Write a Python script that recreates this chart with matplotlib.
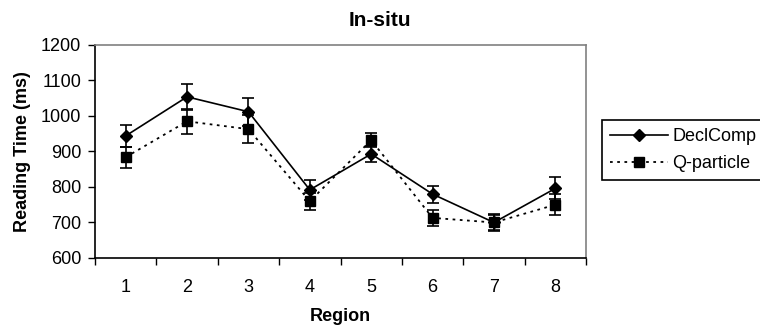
import matplotlib
matplotlib.use("Agg")
import matplotlib.pyplot as plt
from matplotlib.lines import Line2D
import numpy as np

plt.rcParams["font.family"] = ["Liberation Sans", "DejaVu Sans"]

regions = [1, 2, 3, 4, 5, 6, 7, 8]
declcomp = [944, 1054, 1012, 792, 893, 780, 700, 796]
declcomp_err = [31, 37, 40, 28, 22, 24, 23, 31]
qparticle = [884, 985, 963, 760, 932, 713, 700, 750]
qparticle_err = [30, 35, 40, 24, 20, 22, 20, 30]

fig = plt.figure(figsize=(7.6, 3.32), dpi=100)
ax = fig.add_axes([95/760, 1-258/332, (586-95)/760, (258-45)/332])

dotted = (0, (1.5, 2.5))
x = np.array(regions)
ax.errorbar(x, declcomp, yerr=declcomp_err, color="black", linestyle="-",
            linewidth=1.2, marker="D", markersize=6, capsize=4.5,
            elinewidth=1.2, capthick=1.2)
ax.errorbar(x, qparticle, yerr=qparticle_err, color="black",
            linestyle=dotted, linewidth=1.3, marker="s",
            markersize=6.5, capsize=4.5, elinewidth=1.2, capthick=1.2)

ax.set_xlim(0.5, 8.5)
ax.set_ylim(600, 1200)
ax.set_yticks(np.arange(600, 1201, 100))
ax.set_xticks(np.arange(0.5, 8.6, 1))
ax.set_xticklabels([])
ax.set_xticks(x, minor=True)
ax.set_xticklabels([str(r) for r in regions], minor=True)
ax.tick_params(axis="x", which="minor", length=0, pad=15, labelsize=13)
ax.tick_params(axis="x", which="major", direction="out", length=5, width=1)
ax.tick_params(axis="y", direction="out", length=5, width=1, labelsize=13, pad=5)

for s in ["top", "right"]:
    ax.spines[s].set_color("#808080")
    ax.spines[s].set_linewidth(1.2)
for s in ["left", "bottom"]:
    ax.spines[s].set_color("black")
    ax.spines[s].set_linewidth(1.2)

ax.set_xlabel("Region", fontsize=13, fontweight="bold", labelpad=9)
ax.set_ylabel("Reading Time (ms)", fontsize=13, fontweight="bold", labelpad=7)
fig.text(380/760, 1-26/332, "In-situ", ha="center", va="baseline",
         fontsize=15, fontweight="bold")

handles = [
    Line2D([], [], color="black", linestyle="-", linewidth=1.2,
           marker="D", markersize=6),
    Line2D([], [], color="black", linestyle=dotted, linewidth=1.3,
           marker="s", markersize=6.5),
]
leg = fig.legend(handles, ["DeclComp", "Q-particle"], loc="upper left",
                 bbox_to_anchor=(602/760, 1-120/332), borderaxespad=0,
                 fancybox=False, edgecolor="black", fontsize=13,
                 handlelength=3.2, handletextpad=0.25, borderpad=0.45,
                 labelspacing=0.55, framealpha=1)
leg.get_frame().set_linewidth(1.2)

fig.savefig("out.png", dpi=100)
